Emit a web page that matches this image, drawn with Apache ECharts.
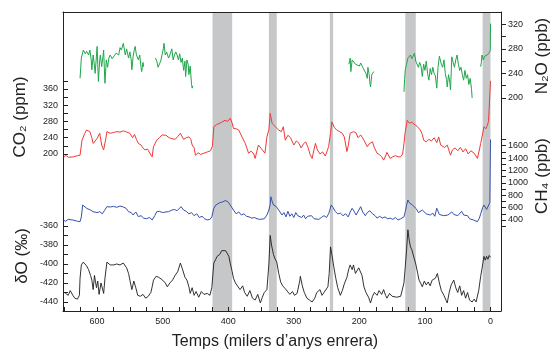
<!DOCTYPE html>
<html>
<head>
    <meta charset="UTF-8"/>
    <script type="text/javascript" src="https://cdn.jsdelivr.net/npm/echarts@6/dist/echarts.min.js"></script>
    <title>Gasos i temperatura</title>
    <style>
        html, body { margin: 0; padding: 0; background: #fff; }
        #chart { width: 554px; height: 349px; }
    </style>
</head>
<body>
<div id="chart"></div>

<script type="application/javascript">
    // milers d'anys enrera, valor
    var co2 = [[652,190],[648,197],[644,192],[641,195],[636,193],[630,196],[626,197],[623,234],[619,250],[616,259],[611,255],[608,240],[606,226],[603,232],[600,238],[596,251],[593,222],[590,210],[587,235],[585,255],[580,251],[575,253],[570,255],[565,254],[560,257],[555,254],[550,251],[546,240],[543,248],[540,236],[537,226],[533,222],[530,215],[527,210],[523,212],[519,200],[516,193],[514,218],[509,234],[505,240],[501,247],[495,246],[490,240],[486,238],[481,236],[477,243],[473,251],[468,236],[464,240],[460,242],[457,236],[455,222],[452,215],[450,197],[446,203],[442,199],[437,202],[432,205],[427,208],[424,220],[422,267],[418,272],[415,275],[410,278],[405,283],[401,280],[397,288],[394,276],[392,263],[388,262],[384,259],[379,242],[374,226],[369,202],[365,207],[361,200],[359,189],[354,222],[350,214],[347,210],[344,202],[341,242],[338,260],[336,300],[333,275],[328,267],[325,263],[323,259],[319,255],[316,267],[313,234],[309,246],[305,240],[300,222],[296,232],[292,226],[289,215],[285,225],[282,230],[278,215],[275,198],[272,189],[270,205],[267,226],[264,210],[260,200],[256,205],[252,195],[249,208],[247,218],[244,250],[242,279],[238,265],[234,258],[230,255],[226,251],[223,242],[219,206],[217,220],[214,251],[211,248],[209,255],[205,252],[202,240],[198,247],[193,234],[188,218],[185,225],[180,230],[177,215],[173,202],[169,198],[166,193],[163,185],[160,195],[158,204],[155,195],[153,189],[149,193],[145,196],[141,193],[137,193],[134,200],[132,226],[130,255],[127,283],[124,276],[120,278],[117,279],[112,268],[107,259],[104,248],[102,234],[98,230],[94,236],[90,232],[86,240],[82,228],[79,242],[76,222],[73,225],[70,216],[66,222],[61,197],[58,210],[54,215],[50,208],[46,216],[42,205],[38,213],[34,200],[30,208],[25,202],[22,195],[20,189],[17,210],[15,226],[12,250],[10,267],[7,262],[5,270],[3,280],[1,284],[0,380]];

    var dO = [[652,-429],[648,-431],[644,-433],[641,-428],[637,-433],[634,-436],[630,-437],[627,-433],[626,-415],[624,-401],[621,-398],[618,-399],[616,-402],[613,-406],[610,-412],[608,-417],[606,-427],[604,-412],[601,-425],[599,-418],[597,-432],[594,-420],[590,-431],[588,-415],[585,-398],[582,-400],[580,-401],[575,-401],[570,-400],[565,-401],[560,-399],[555,-404],[552,-410],[550,-417],[547,-427],[544,-418],[541,-425],[538,-433],[534,-434],[530,-432],[526,-436],[522,-434],[518,-430],[516,-424],[514,-417],[510,-413],[506,-414],[504,-412],[500,-417],[496,-420],[493,-424],[489,-420],[485,-417],[481,-412],[477,-408],[473,-399],[470,-405],[466,-414],[463,-417],[460,-424],[458,-431],[455,-425],[452,-433],[449,-429],[445,-435],[441,-429],[437,-432],[432,-431],[428,-433],[425,-425],[422,-399],[419,-395],[417,-392],[413,-390],[410,-386],[407,-384],[404,-386],[402,-387],[399,-392],[397,-399],[394,-408],[392,-415],[389,-420],[385,-424],[382,-427],[378,-423],[375,-430],[371,-434],[367,-428],[363,-436],[359,-438],[355,-432],[351,-441],[348,-435],[345,-430],[341,-427],[338,-400],[336,-370],[334,-380],[331,-390],[329,-394],[326,-398],[323,-410],[320,-419],[317,-423],[313,-426],[310,-427],[306,-432],[302,-429],[299,-433],[295,-431],[291,-418],[290,-413],[287,-423],[284,-430],[280,-436],[276,-438],[272,-440],[268,-436],[265,-430],[262,-429],[260,-427],[257,-433],[254,-430],[251,-431],[248,-424],[246,-410],[244,-382],[242,-390],[239,-403],[236,-415],[233,-425],[229,-433],[226,-428],[223,-421],[219,-414],[216,-405],[214,-401],[211,-406],[209,-401],[206,-410],[204,-410],[201,-404],[198,-403],[196,-412],[193,-424],[190,-430],[186,-435],[183,-441],[180,-434],[177,-430],[173,-433],[170,-428],[166,-432],[163,-427],[160,-433],[158,-436],[154,-431],[150,-434],[147,-432],[143,-435],[140,-436],[137,-434],[135,-433],[132,-420],[130,-403],[128,-385],[126,-364],[124,-375],[122,-382],[120,-385],[117,-387],[114,-400],[111,-410],[109,-417],[106,-421],[104,-424],[101,-418],[98,-422],[95,-419],[92,-423],[89,-417],[87,-417],[84,-415],[81,-410],[78,-420],[75,-428],[71,-433],[68,-438],[66,-441],[63,-430],[60,-422],[56,-417],[53,-425],[50,-430],[47,-423],[44,-433],[41,-428],[38,-436],[35,-430],[32,-438],[28,-440],[25,-437],[22,-440],[20,-440],[18,-428],[15,-413],[13,-405],[10,-392],[8,-396],[6,-392],[4,-395],[2,-391],[0,-393]];

    var ch4 = [[652,400],[648,380],[644,410],[641,427],[637,400],[634,373],[630,380],[626,373],[624,450],[622,642],[619,620],[616,589],[613,575],[610,560],[606,534],[603,560],[600,520],[596,534],[592,500],[589,550],[585,615],[580,610],[575,620],[570,605],[565,626],[560,610],[556,590],[552,534],[548,520],[545,480],[541,530],[537,454],[533,470],[529,430],[525,420],[520,440],[516,400],[512,470],[509,534],[505,540],[500,520],[495,530],[491,534],[486,560],[482,570],[478,550],[472,615],[468,560],[464,540],[460,500],[456,520],[452,470],[448,500],[444,440],[440,460],[436,420],[432,400],[428,410],[425,450],[422,589],[419,640],[417,669],[413,680],[409,690],[405,712],[401,700],[397,642],[392,561],[388,500],[384,530],[380,480],[376,500],[372,460],[368,450],[364,430],[360,440],[356,420],[352,410],[349,400],[345,420],[341,480],[338,561],[336,650],[335,776],[333,700],[331,642],[327,620],[323,560],[321,534],[318,480],[315,520],[312,450],[309,540],[306,460],[303,500],[300,440],[297,520],[294,470],[291,500],[288,440],[285,480],[282,420],[279,460],[276,430],[273,470],[269,420],[266,450],[262,410],[258,440],[254,470],[250,440],[247,500],[245,560],[243,642],[240,600],[237,540],[233,500],[229,510],[225,470],[221,500],[217,450],[214,530],[211,589],[208,540],[205,480],[202,500],[198,615],[195,530],[191,470],[188,520],[184,550],[180,500],[176,470],[173,430],[169,460],[165,430],[161,450],[157,420],[153,430],[149,410],[145,440],[141,400],[137,420],[135,400],[132,450],[130,534],[128,640],[126,723],[124,680],[122,650],[119,640],[117,615],[113,580],[110,520],[107,540],[104,560],[101,550],[98,500],[95,520],[92,480],[88,510],[85,460],[82,590],[80,540],[78,490],[75,510],[72,470],[69,500],[65,480],[62,450],[59,530],[56,490],[53,500],[50,470],[47,440],[44,540],[41,480],[38,500],[35,470],[32,420],[29,440],[26,400],[23,380],[20,373],[17,430],[15,500],[12,600],[10,642],[8,620],[6,570],[5,561],[3,600],[1,680],[0.3,700],[0,1700]];

    var n2o = [[626,232],[624,265],[623,267],[621,278],[618,272],[616,276],[613,270],[611,278],[609,262],[608,246],[606,270],[604,252],[603,240],[601,268],[600,284],[599,255],[598,227],[596,262],[595,270],[593,251],[591,268],[590,278],[589,250],[588,224],[586,262],[584,250],[582,265],[580,270],[577,264],[574,262],[571,273],[569,276],[567,270],[565,282],[563,278],[560,289],[557,270],[555,280],[552,265],[550,275],[548,262],[547,246],[545,268],[543,280],[542,284],[540,270],[537,262],[535,270],[533,250],[532,243],[530,258],[529,251],
        [520,null],
        [511,265],[509,260],[507,250],[506,251],[503,260],[501,258],[499,280],[498,289],[496,270],[494,275],[491,265],[489,270],[486,280],[484,262],[482,270],[480,275],[478,270],[476,262],[474,272],[472,258],[470,265],[468,245],[466,260],[465,235],[463,262],[461,254],[460,238],[458,252],[456,222],[455,216],[454,220],
        [300,null],
        [216,255],[214,265],[213,243],[211,262],[209,259],[206,255],[203,258],[200,252],[198,257],[195,250],[192,248],[190,240],[188,232],[187,250],[185,238],[184,225],[183,218],[181,238],[179,240],[178,243],
        [150,null],
        [132,210],[131,230],[130,246],[128,255],[126,265],[124,262],[122,270],[120,264],[118,268],[116,273],[114,260],[112,262],[110,250],[108,258],[106,252],[104,235],[102,255],[100,245],[98,260],[96,240],[94,229],[92,248],[90,238],[88,250],[86,240],[84,236],[82,216],[80,250],[78,268],[77,270],[75,255],[73,250],[71,262],[69,240],[67,230],[66,218],[64,238],[62,225],[61,213],[59,267],[57,258],[55,250],[53,262],[51,270],[49,255],[47,245],[45,250],[43,238],[41,229],[39,245],[37,232],[35,238],[33,222],[31,232],[29,215],[28,200],
        [20,null],
        [15,251],[14,258],[13,270],[11,262],[9,268],[7,266],[5,270],[3,273],[1,275],[0.3,280],[0,321]];

    // períodes interglacials (ombrejat)
    var bands = [[424, 394], [338, 326], [245, 240], [130, 114], [12, 0]];

    var xTicks = [0,25,50,75,100,125,150,175,200,225,250,275,300,325,350,375,400,425,450,475,500,525,550,575,600,625,650];
    var xLabels = [0, 100, 200, 300, 400, 500, 600];
    var co2Ticks = [200,220,240,260,280,300,320,340,360,380];
    var co2Labels = [200, 240, 280, 320, 360];
    var dOTicks = [-440,-430,-420,-410,-400,-390,-380,-370,-360];
    var dOLabels = [-440, -420, -400, -380, -360];
    var n2oTicks = [200,220,240,260,280,300,320];
    var n2oLabels = [200, 240, 280, 320];
    var ch4Ticks = [300,400,500,600,700,800,900,1000,1100,1200,1300,1400,1500,1600,1700];
    var ch4Labels = [400, 600, 800, 1000, 1200, 1400, 1600];

    var FONT = 'Liberation Sans, Arial, Helvetica, sans-serif';
    var INK = '#222';

    function yAxisFor(pos, min, max, ticks, labels, showLine, inside) {
        return {
            type: 'value',
            position: pos,
            min: min,
            max: max,
            z: 10,
            splitLine: {show: false},
            axisLine: {show: showLine, onZero: false, lineStyle: {color: INK, width: 1}},
            axisTick: {show: true, inside: inside, length: 5, customValues: ticks, lineStyle: {color: INK}},
            axisLabel: {
                show: true, customValues: labels, margin: pos == 'left' ? 5 : 7,
                color: INK, fontSize: 9, fontFamily: FONT,
                formatter: function (v) { return String(v); }
            }
        };
    }

    function lineSeries(data, yIdx, color, width) {
        return {
            type: 'line',
            xAxisIndex: 0,
            yAxisIndex: yIdx,
            data: data,
            showSymbol: false,
            symbol: 'none',
            connectNulls: false,
            silent: true,
            z: 3,
            lineStyle: {color: color, width: width}
        };
    }

    var myChart = echarts.init(document.getElementById('chart'));
    var option = {
        animation: false,
        backgroundColor: '#fff',
        grid: {left: 63, right: 53, top: 12, bottom: 38},
        xAxis: [
            {
                type: 'value', inverse: true, min: -16, max: 652, position: 'bottom', z: 10,
                splitLine: {show: false},
                axisLine: {show: true, onZero: false, lineStyle: {color: INK, width: 1}},
                axisTick: {show: true, inside: true, length: 4, customValues: xTicks, lineStyle: {color: INK}},
                axisLabel: {customValues: xLabels, margin: 6, color: INK, fontSize: 9, fontFamily: FONT}
            },
            {
                type: 'value', inverse: true, min: -16, max: 652, position: 'top', z: 10,
                splitLine: {show: false},
                axisLine: {show: true, onZero: false, lineStyle: {color: INK, width: 1}},
                axisTick: {show: false},
                axisLabel: {show: false}
            }
        ],
        yAxis: [
            yAxisFor('left', -186.5, 549.5, co2Ticks, co2Labels, true, true),
            yAxisFor('left', -449.5, -134.7, dOTicks, dOLabels, false, true),
            yAxisFor('right', -146.8, 340, n2oTicks, n2oLabels, true, false),
            yAxisFor('right', -1069.7, 3759.2, ch4Ticks, ch4Labels, false, false)
        ],
        graphic: [
            {type: 'text', x: 20, y: 117, rotation: Math.PI / 2,
                style: {text: 'CO₂ (ppm)', font: '17px ' + FONT, fill: INK, align: 'center', verticalAlign: 'middle'}},
            {type: 'text', x: 22, y: 256, rotation: Math.PI / 2,
                style: {text: 'δO (‰)', font: '17px ' + FONT, fill: INK, align: 'center', verticalAlign: 'middle'}},
            {type: 'text', x: 542, y: 56, rotation: Math.PI / 2,
                style: {text: 'N₂O (ppb)', font: '17px ' + FONT, fill: INK, align: 'center', verticalAlign: 'middle'}},
            {type: 'text', x: 542, y: 176, rotation: Math.PI / 2,
                style: {text: 'CH₄ (ppb)', font: '17px ' + FONT, fill: INK, align: 'center', verticalAlign: 'middle'}},
            {type: 'text', x: 275, y: 342,
                style: {text: 'Temps (milers d’anys enrera)', font: '16px ' + FONT, fill: INK, align: 'center', verticalAlign: 'middle'}}
        ],
        series: [
            {
                type: 'line', xAxisIndex: 0, yAxisIndex: 0, data: [], z: 1, silent: true,
                markArea: {
                    silent: true,
                    itemStyle: {color: '#c6c7c9', opacity: 1},
                    data: bands.map(function (b) { return [{xAxis: b[0]}, {xAxis: b[1]}]; })
                }
            },
            lineSeries(n2o, 2, '#1fa64b', 1),
            lineSeries(co2, 0, '#ee3a36', 1),
            lineSeries(ch4, 3, '#3550ad', 1),
            lineSeries(dO, 1, '#1c1c1c', 0.9)
        ]
    };
    myChart.setOption(option);
</script>

</body>
</html>
